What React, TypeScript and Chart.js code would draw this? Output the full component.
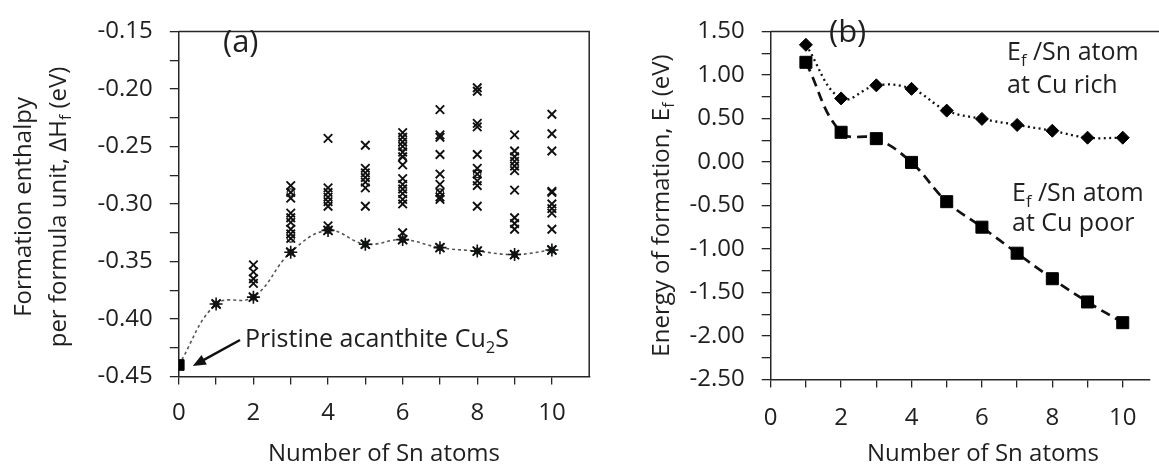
import React, { useEffect, useRef } from 'react';
import { Chart, registerables } from 'chart.js';

Chart.register(...registerables);

// ---------- Data: panel (a) ----------
const nSn = [0, 1, 2, 3, 4, 5, 6, 7, 8, 9, 10];
const minEnthalpy = [-0.44, -0.387, -0.381, -0.342, -0.323, -0.335, -0.331, -0.338, -0.341, -0.344, -0.34];
const pristineEnthalpy = -0.44;
const configsN1 = [-0.387];
const configsN2 = [-0.353, -0.359, -0.365, -0.369, -0.381];
const configsN3 = [-0.284, -0.29, -0.295, -0.308, -0.312, -0.316, -0.322, -0.326, -0.33, -0.342];
const configsN4 = [-0.243, -0.286, -0.29, -0.294, -0.298, -0.302, -0.319, -0.323];
const configsN5 = [-0.249, -0.269, -0.273, -0.277, -0.281, -0.286, -0.302, -0.335];
const configsN6 = [-0.238, -0.242, -0.246, -0.25, -0.255, -0.259, -0.266, -0.278, -0.283, -0.287, -0.291, -0.296, -0.3, -0.325, -0.331];
const configsN7 = [-0.218, -0.24, -0.242, -0.257, -0.274, -0.283, -0.29, -0.294, -0.296, -0.338];
const configsN8 = [-0.199, -0.202, -0.23, -0.233, -0.257, -0.269, -0.274, -0.28, -0.284, -0.302, -0.341];
const configsN9 = [-0.24, -0.254, -0.259, -0.263, -0.267, -0.271, -0.288, -0.312, -0.317, -0.322, -0.344];
const configsN10 = [-0.222, -0.239, -0.254, -0.289, -0.29, -0.3, -0.304, -0.308, -0.322, -0.34];
const ringN = [3, 3, 4, 6, 6, 7, 8];
const ringValues = [-0.29, -0.33, -0.298, -0.25, -0.262, -0.29, -0.274];
const xTicksA = [0, 1, 2, 3, 4, 5, 6, 7, 8, 9, 10];
const yTicksA = [-0.45, -0.425, -0.4, -0.375, -0.35, -0.325, -0.3, -0.275, -0.25, -0.225, -0.2, -0.175, -0.15];

// ---------- Data: panel (b) ----------
const nSnB = [1, 2, 3, 4, 5, 6, 7, 8, 9, 10];
const efCuRich = [1.346, 0.73, 0.88, 0.84, 0.59, 0.495, 0.425, 0.359, 0.279, 0.279];
const efCuPoor = [1.145, 0.341, 0.268, -0.005, -0.456, -0.749, -1.048, -1.341, -1.608, -1.846];
const xTicksB = [0, 1, 2, 3, 4, 5, 6, 7, 8, 9, 10];
const yTicksB = [-2.5, -2.25, -2, -1.75, -1.5, -1.25, -1, -0.75, -0.5, -0.25, 0, 0.25, 0.5, 0.75, 1, 1.25, 1.5];

const FONT = '"Open Sans", "DejaVu Sans", sans-serif';
const TEXT = '#1f1f1f';
const AXIS = '#262626';

type Part = { t: string; sub?: boolean };

function drawRich(ctx: CanvasRenderingContext2D, parts: Part[], x: number, y: number, size: number, align: 'left' | 'center') {
  const subSize = size * 0.66;
  const widths = parts.map((p) => {
    ctx.font = `${p.sub ? subSize : size}px ${FONT}`;
    return ctx.measureText(p.t).width;
  });
  const total = widths.reduce((a, b) => a + b, 0);
  let cx = align === 'center' ? x - total / 2 : x;
  ctx.textAlign = 'left';
  ctx.textBaseline = 'alphabetic';
  parts.forEach((p, i) => {
    ctx.font = `${p.sub ? subSize : size}px ${FONT}`;
    ctx.fillText(p.t, cx, y + (p.sub ? size * 0.22 : 0));
    cx += widths[i];
  });
}

function drawRotated(ctx: CanvasRenderingContext2D, parts: Part[], cx: number, cy: number, size: number) {
  ctx.save();
  ctx.translate(cx, cy);
  ctx.rotate(-Math.PI / 2);
  drawRich(ctx, parts, 0, size * 0.36, size, 'center');
  ctx.restore();
}

const toPoints = (xs: number[], ys: number[]) => xs.map((x, i) => ({ x, y: ys[i] }));
const column = (n: number, vals: number[]) => vals.map((y) => ({ x: n, y }));

export default function App() {
  const refA = useRef<HTMLCanvasElement>(null);
  const refB = useRef<HTMLCanvasElement>(null);

  useEffect(() => {
    const configPoints = [
      ...column(1, configsN1),
      ...column(2, configsN2),
      ...column(3, configsN3),
      ...column(4, configsN4),
      ...column(5, configsN5),
      ...column(6, configsN6),
      ...column(7, configsN7),
      ...column(8, configsN8),
      ...column(9, configsN9),
      ...column(10, configsN10),
    ];
    const minPts = toPoints(nSn, minEnthalpy);

    const extrasA = {
      id: 'extrasA',
      afterDraw(chart: any) {
        const { ctx, chartArea: ca, scales } = chart;
        ctx.save();
        ctx.strokeStyle = AXIS;
        ctx.lineWidth = 1.5;
        ctx.beginPath();
        ctx.moveTo(ca.left, ca.top);
        ctx.lineTo(ca.right, ca.top);
        ctx.lineTo(ca.right, ca.bottom);
        ctx.stroke();

        ctx.fillStyle = TEXT;
        ctx.font = `31px ${FONT}`;
        ctx.textAlign = 'left';
        ctx.textBaseline = 'alphabetic';
        ctx.fillText('(a)', 223, 52);

        // annotation + arrow
        drawRich(ctx, [{ t: 'Pristine acanthite Cu' }, { t: '2', sub: true }, { t: 'S' }], 245, 347, 25, 'left');
        const hx = scales.x.getPixelForValue(0) + 14;
        const hy = scales.y.getPixelForValue(pristineEnthalpy) + 1;
        const tx = 240, ty = 340;
        const ang = Math.atan2(hy - ty, hx - tx);
        ctx.strokeStyle = '#111';
        ctx.lineWidth = 2.5;
        ctx.beginPath();
        ctx.moveTo(tx, ty);
        ctx.lineTo(hx - 10 * Math.cos(ang), hy - 10 * Math.sin(ang));
        ctx.stroke();
        ctx.fillStyle = '#111';
        ctx.beginPath();
        ctx.moveTo(hx, hy);
        ctx.lineTo(hx - 13 * Math.cos(ang) + 5.5 * Math.sin(ang), hy - 13 * Math.sin(ang) - 5.5 * Math.cos(ang));
        ctx.lineTo(hx - 13 * Math.cos(ang) - 5.5 * Math.sin(ang), hy - 13 * Math.sin(ang) + 5.5 * Math.cos(ang));
        ctx.closePath();
        ctx.fill();

        // axis titles
        ctx.fillStyle = TEXT;
        const cy = (ca.top + ca.bottom) / 2 + 3;
        drawRotated(ctx, [{ t: 'Formation enthalpy' }], 22, cy, 24);
        drawRotated(ctx, [{ t: 'per formula unit, \u0394H' }, { t: 'f', sub: true }, { t: ' (eV)' }], 57, cy, 24);
        drawRich(ctx, [{ t: 'Number of Sn atoms' }], (ca.left + ca.right) / 2, 461, 24, 'center');
        ctx.restore();
      },
    };

    const extrasB = {
      id: 'extrasB',
      afterDraw(chart: any) {
        const { ctx, chartArea: ca } = chart;
        ctx.save();
        ctx.strokeStyle = AXIS;
        ctx.lineWidth = 1.5;
        ctx.beginPath();
        ctx.moveTo(ca.left, ca.top);
        ctx.lineTo(chart.width, ca.top);
        ctx.stroke();

        ctx.fillStyle = TEXT;
        ctx.font = `31px ${FONT}`;
        ctx.textAlign = 'left';
        ctx.textBaseline = 'alphabetic';
        ctx.fillText('(b)', 229, 42);

        drawRich(ctx, [{ t: 'E' }, { t: 'f', sub: true }, { t: ' /Sn atom' }], 407, 60, 25, 'left');
        drawRich(ctx, [{ t: 'at Cu rich' }], 407, 93, 25, 'left');
        drawRich(ctx, [{ t: 'E' }, { t: 'f', sub: true }, { t: ' /Sn atom' }], 412, 201, 25, 'left');
        drawRich(ctx, [{ t: 'at Cu poor' }], 412, 231, 25, 'left');

        drawRotated(ctx, [{ t: 'Energy of formation, E' }, { t: 'f', sub: true }, { t: ' (eV)' }], 60, (ca.top + ca.bottom) / 2, 24);
        drawRich(ctx, [{ t: 'Number of Sn atoms' }], 383, 461, 24, 'center');
        ctx.restore();
      },
    };

    const tickFont = { family: FONT, size: 24 };

    const chartA = new Chart(refA.current as HTMLCanvasElement, {
      type: 'scatter',
      data: {
        datasets: [
          {
            label: 'Pristine',
            data: [{ x: 0, y: pristineEnthalpy }],
            pointStyle: 'rect',
            pointRadius: 7.5,
            backgroundColor: '#000',
            borderColor: '#000',
            borderWidth: 1,
          },
          {
            label: 'Min markers',
            data: minPts,
            pointStyle: 'star',
            pointRadius: (c: any) => (c.dataIndex === 0 ? 0 : 6.5),
            borderColor: '#111',
            borderWidth: 1.6,
            backgroundColor: 'transparent',
          },
          {
            label: 'Configurations',
            data: configPoints,
            pointStyle: 'crossRot',
            pointRadius: 6,
            borderColor: '#111',
            borderWidth: 1.9,
          },
          {
            label: 'Configurations (ring)',
            data: toPoints(ringN, ringValues),
            pointStyle: 'circle',
            pointRadius: 3.6,
            borderColor: '#222',
            borderWidth: 1.2,
            backgroundColor: 'transparent',
          },
          {
            type: 'line',
            label: 'Minimum',
            data: minPts,
            showLine: true,
            borderColor: '#555',
            borderWidth: 1.6,
            borderDash: [3, 3],
            tension: 0.4,
            pointStyle: 'circle',
            pointRadius: (c: any) => (c.dataIndex === 0 ? 0 : 3.5),
            pointBackgroundColor: '#2f4a2f',
            pointBorderWidth: 0,
          } as any,
        ],
      },
      options: {
        responsive: false,
        animation: false,
        layout: { padding: { top: 20.7, left: 0, right: 10.8, bottom: 0 } },
        plugins: { legend: { display: false }, tooltip: { enabled: false } },
        scales: {
          x: {
            type: 'linear',
            min: 0,
            max: 11,
            afterBuildTicks: (s: any) => {
              s.ticks = xTicksA.map((v) => ({ value: v }));
            },
            afterFit: (s: any) => {
              s.height = 469 - 376.5;
            },
            ticks: {
              autoSkip: false,
              maxRotation: 0,
              padding: 14,
              color: TEXT,
              font: tickFont,
              callback: (v: any) => (v % 2 === 0 ? String(v) : ''),
            },
            grid: { drawOnChartArea: false, tickLength: 8, color: AXIS, lineWidth: 1.3 },
            border: { color: AXIS, width: 1.5 },
          },
          y: {
            type: 'linear',
            min: -0.45,
            max: -0.15,
            afterBuildTicks: (s: any) => {
              s.ticks = yTicksA.map((v) => ({ value: v }));
            },
            afterFit: (s: any) => {
              s.width = 178.8;
            },
            ticks: {
              autoSkip: false,
              padding: 17,
              color: TEXT,
              font: tickFont,
              callback: (v: any) => (Math.round(Math.abs(v) * 1000) % 50 === 0 ? Number(v).toFixed(2) : ''),
            },
            grid: { drawOnChartArea: false, tickLength: 9, color: AXIS, lineWidth: 1.3 },
            border: { color: AXIS, width: 1.5 },
          },
        },
      },
      plugins: [extrasA],
    } as any);

    const chartB = new Chart(refB.current as HTMLCanvasElement, {
      type: 'line',
      data: {
        datasets: [
          {
            label: 'Ef/Sn atom at Cu rich',
            data: toPoints(nSnB, efCuRich),
            borderColor: '#111',
            borderWidth: 2.3,
            borderDash: [2, 3.5],
            tension: 0.4,
            pointStyle: 'rectRot',
            pointRadius: 6.5,
            pointBackgroundColor: '#000',
            pointBorderColor: '#000',
            pointBorderWidth: 1,
          },
          {
            label: 'Ef/Sn atom at Cu poor',
            data: toPoints(nSnB, efCuPoor),
            borderColor: '#111',
            borderWidth: 2.7,
            borderDash: [10, 6],
            tension: 0.4,
            pointStyle: 'rect',
            pointRadius: 8.5,
            pointBackgroundColor: '#000',
            pointBorderColor: '#000',
            pointBorderWidth: 1,
          },
        ],
      },
      options: {
        responsive: false,
        animation: false,
        layout: { padding: { top: 14.3, left: 0, right: 0, bottom: 0 } },
        plugins: { legend: { display: false }, tooltip: { enabled: false } },
        scales: {
          x: {
            type: 'linear',
            min: 0,
            max: 10.76,
            afterBuildTicks: (s: any) => {
              s.ticks = xTicksB.map((v) => ({ value: v }));
            },
            afterFit: (s: any) => {
              s.height = 469 - 379.6;
            },
            ticks: {
              autoSkip: false,
              maxRotation: 0,
              padding: 16,
              color: TEXT,
              font: tickFont,
              callback: (v: any) => (v % 2 === 0 ? String(v) : ''),
            },
            grid: { drawOnChartArea: false, tickLength: 8, color: AXIS, lineWidth: 1.3 },
            border: { color: AXIS, width: 1.5 },
          },
          y: {
            type: 'linear',
            min: -2.5,
            max: 1.5,
            afterBuildTicks: (s: any) => {
              s.ticks = yTicksB.map((v) => ({ value: v }));
            },
            afterFit: (s: any) => {
              s.width = 170.7;
            },
            ticks: {
              autoSkip: false,
              padding: 17,
              color: TEXT,
              font: tickFont,
              callback: (v: any) => (Math.round(Math.abs(v) * 100) % 50 === 0 ? Number(v).toFixed(2) : ''),
            },
            grid: { drawOnChartArea: false, tickLength: 9, color: AXIS, lineWidth: 1.3 },
            border: { color: AXIS, width: 1.5 },
          },
        },
      },
      plugins: [extrasB],
    } as any);

    return () => {
      chartA.destroy();
      chartB.destroy();
    };
  }, []);

  return (
    <div style={{ position: 'absolute', left: 0, top: 0, width: 1159, height: 469, background: '#fff', overflow: 'hidden' }}>
      <canvas ref={refA} width={600} height={469} style={{ position: 'absolute', left: 0, top: 0, width: 600, height: 469 }} />
      <canvas ref={refB} width={559} height={469} style={{ position: 'absolute', left: 600, top: 0, width: 559, height: 469 }} />
    </div>
  );
}
